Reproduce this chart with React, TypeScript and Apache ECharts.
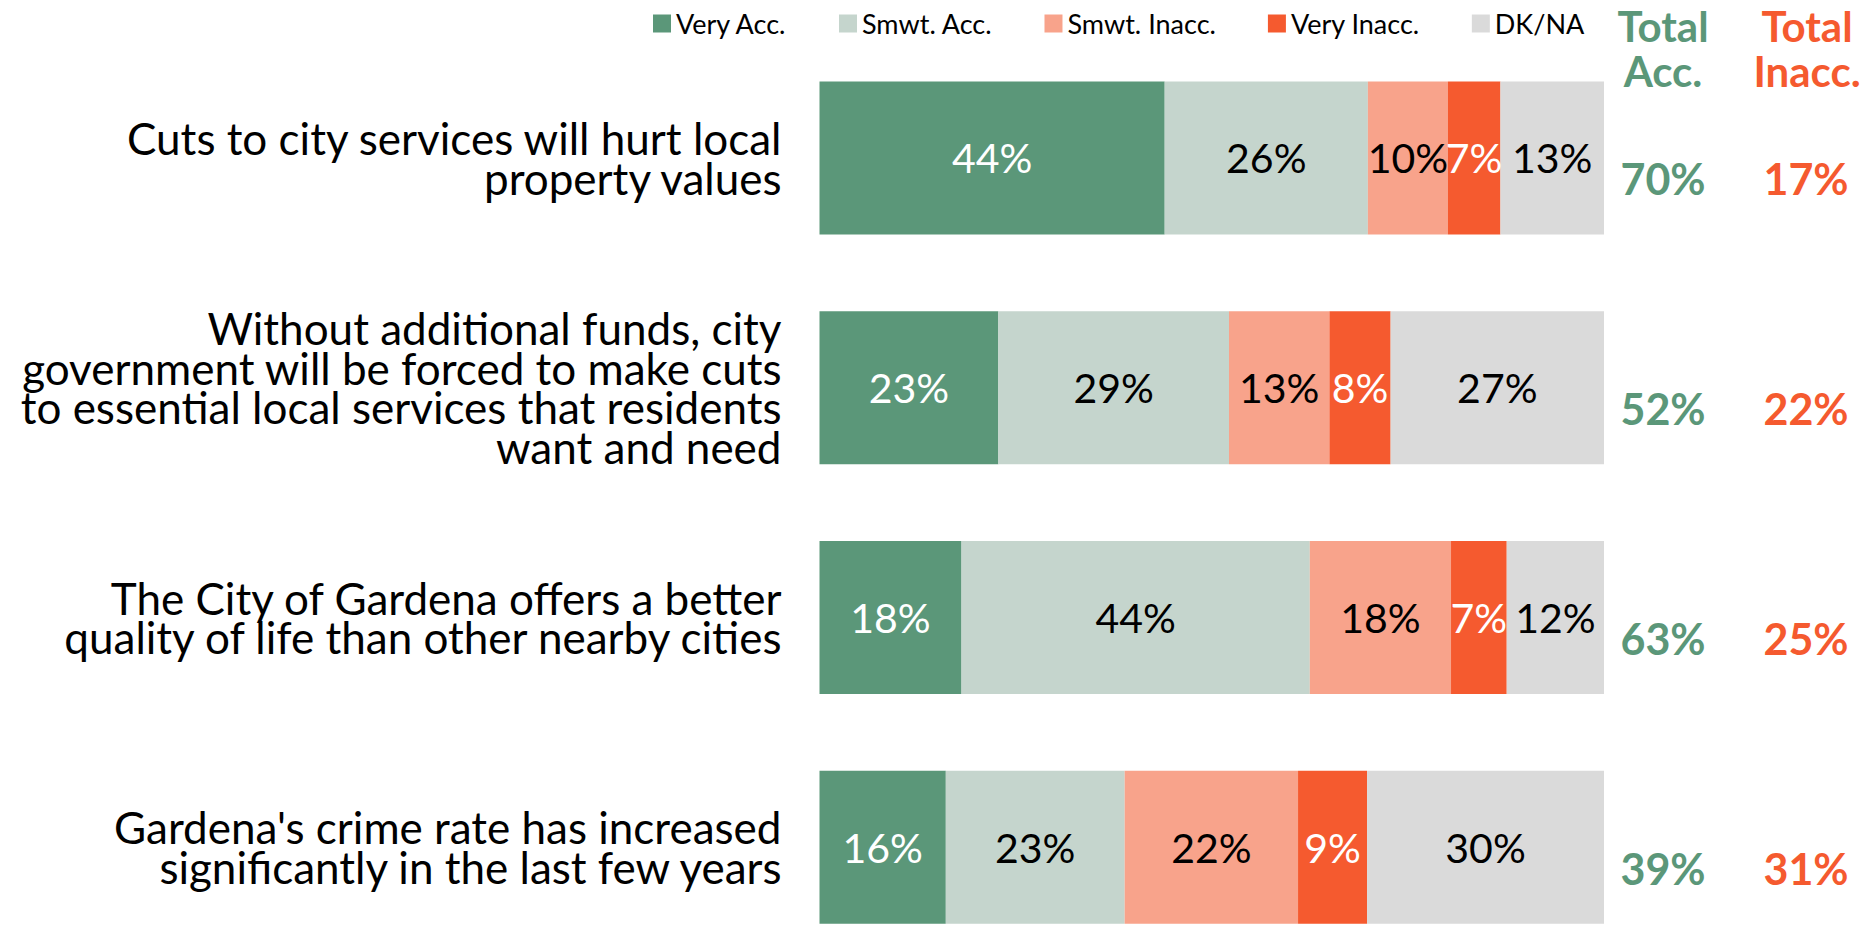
import React, { useEffect, useRef } from "react";
import * as echarts from "echarts";

const categories = [
  "Cuts to city services will hurt local\nproperty values",
  "Without additional funds, city\ngovernment will be forced to make cuts\nto essential local services that residents\nwant and need",
  "The City of Gardena offers a better\nquality of life than other nearby cities",
  "Gardena's crime rate has increased\nsignificantly in the last few years",
];
const seriesNames = ["Very Acc.", "Smwt. Acc.", "Smwt. Inacc.", "Very Inacc.", "DK/NA"];
const veryAcc = [44.0, 22.8, 18.1, 16.1];
const smwtAcc = [25.9, 29.4, 44.4, 22.8];
const smwtInacc = [10.2, 12.8, 18.0, 22.1];
const veryInacc = [6.7, 7.8, 7.1, 8.8];
const dkna = [13.2, 27.2, 12.4, 30.2];
const totalAcc = [70, 52, 63, 39];
const totalInacc = [17, 22, 25, 31];

const colors = ["#5B9779", "#C5D5CD", "#F8A38B", "#F55A2F", "#DADADA"];
const labelColors = ["#FFFFFF", "#000000", "#000000", "#FFFFFF", "#000000"];
const GREEN = "#5B9779";
const ORANGE = "#F55A2F";
const FONT = "Lato, 'Noto Sans', sans-serif";

export default function App() {
  const ref = useRef<HTMLDivElement>(null);
  useEffect(() => {
    document.body.style.margin = "0";
    document.body.style.overflow = "hidden";
    const chart = echarts.init(ref.current!, null, { renderer: "svg" });
    const values = [veryAcc, smwtAcc, smwtInacc, veryInacc, dkna];
    chart.setOption({
      animation: false,
      textStyle: { fontFamily: FONT },
      legend: {
        data: seriesNames,
        left: 648,
        top: 5,
        itemWidth: 18,
        itemHeight: 18,
        itemGap: 52,
        icon: "rect",
        textStyle: { fontSize: 27, color: "#000", fontFamily: FONT },
      },
      grid: { left: 819.5, right: 269, top: 43, height: 919, outerBoundsMode: "none" },
      xAxis: { type: "value", min: 0, max: 100, show: false },
      yAxis: [
        {
          type: "category",
          data: categories,
          inverse: true,
          axisLine: { show: false },
          axisTick: { show: false },
          axisLabel: {
            fontSize: 44,
            lineHeight: 39.5,
            color: "#000",
            align: "right",
            margin: 38,
            padding: [0, 0, 34, 0],
            fontFamily: FONT,
          },
        },
        {
          type: "category",
          data: categories,
          inverse: true,
          position: "right",
          axisLine: { show: false },
          axisTick: { show: false },
          axisLabel: {
            margin: 0,
            align: "left",
            padding: [42, 0, 0, 0],
            formatter: (_v: string, i: number) => `{a|${totalAcc[i]}%}{b|${totalInacc[i]}%}`,
            rich: {
              a: { width: 118, align: "center", color: GREEN, fontSize: 43, fontWeight: "bold", fontFamily: FONT },
              b: { width: 168, align: "center", color: ORANGE, fontSize: 43, fontWeight: "bold", fontFamily: FONT },
            },
          },
        },
      ],
      series: seriesNames.map((name, k) => ({
        name,
        type: "bar",
        stack: "total",
        barWidth: 153,
        yAxisIndex: 0,
        itemStyle: { color: colors[k] },
        label: {
          show: true,
          position: "inside",
          color: labelColors[k],
          fontSize: 41,
          fontFamily: FONT,
          formatter: (p: any) => `${Math.round(p.value)}%`,
        },
        data: values[k],
      })),
      graphic: [
        {
          type: "text",
          x: 1663,
          y: 3,
          style: {
            text: "Total\nAcc.",
            fill: GREEN,
            font: `bold 42px ${FONT}`,
            lineHeight: 45,
            align: "center",
            verticalAlign: "top",
          },
        },
        {
          type: "text",
          x: 1807,
          y: 3,
          style: {
            text: "Total\nInacc.",
            fill: ORANGE,
            font: `bold 42px ${FONT}`,
            lineHeight: 45,
            align: "center",
            verticalAlign: "top",
          },
        },
      ],
    });
    return () => chart.dispose();
  }, []);
  return <div ref={ref} style={{ width: 1873, height: 925 }} />;
}
